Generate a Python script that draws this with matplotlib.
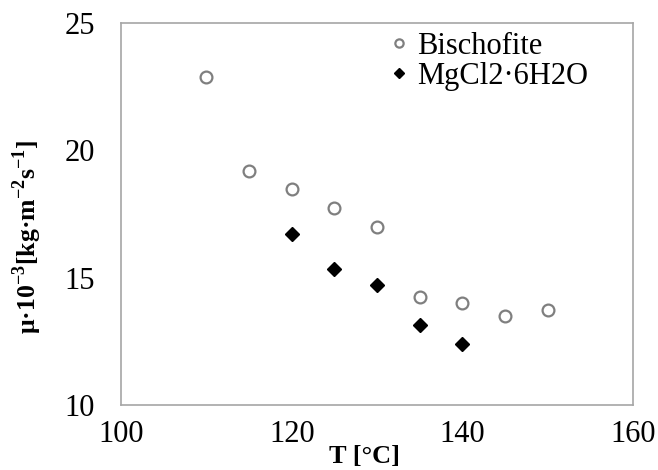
import matplotlib.pyplot as plt

plt.rcParams['font.family'] = ['Liberation Serif', 'DejaVu Serif']
plt.rcParams['mathtext.fontset'] = 'custom'
plt.rcParams['mathtext.rm'] = 'Liberation Serif'
plt.rcParams['mathtext.bf'] = 'Liberation Serif:bold'

# Bischofite
T_bis = [110, 115, 120, 125, 130, 135, 140, 145, 150]
mu_bis = [22.9, 19.2, 18.5, 17.75, 17.0, 14.25, 14.0, 13.5, 13.75]

# MgCl2*6H2O
T_mg = [120, 125, 130, 135, 140]
mu_mg = [16.7, 15.35, 14.7, 13.15, 12.4]

xticks = [100, 120, 140, 160]
yticks = [10, 15, 20, 25]

fig = plt.figure(figsize=(6.58, 4.70), dpi=100)
ax = fig.add_axes([0.184, 0.138, 0.778, 0.813])

ax.plot(T_bis, mu_bis, 'o', ms=8.5, mfc='white', mec='#7f7f7f', mew=1.6,
        label='Bischofite', linestyle='none')
ax.plot(T_mg, mu_mg, 'D', ms=7.5, color='black', label='MgCl2·6H2O',
        linestyle='none')

ax.set_xlim(100, 160)
ax.set_ylim(10, 25)
ax.set_xticks(xticks)
ax.set_yticks(yticks)
ax.tick_params(length=0, labelsize=22, pad=11)
ax.tick_params(axis='y', pad=19)
for s in ax.spines.values():
    s.set_color('#a6a6a6')
    s.set_linewidth(1.2)

ax.set_xlabel('T [°C]', fontsize=19, fontweight='bold')
ax.xaxis.set_label_coords(0.475, -0.105)
ax.set_ylabel(r'μ·10$^{\mathbf{-3}}$[kg·m$^{\mathbf{-2}}$s$^{\mathbf{-1}}$]',
              fontsize=18.5, fontweight='bold')
ax.yaxis.set_label_coords(-0.15, 0.44)

ax.legend(loc='upper left', frameon=False, fontsize=22, handletextpad=0.3,
          borderaxespad=0.0, borderpad=0.0, labelspacing=0.03, handlelength=0.6,
          markerscale=0.7, bbox_to_anchor=(0.525, 0.977))

fig.savefig('out.png', dpi=100)
